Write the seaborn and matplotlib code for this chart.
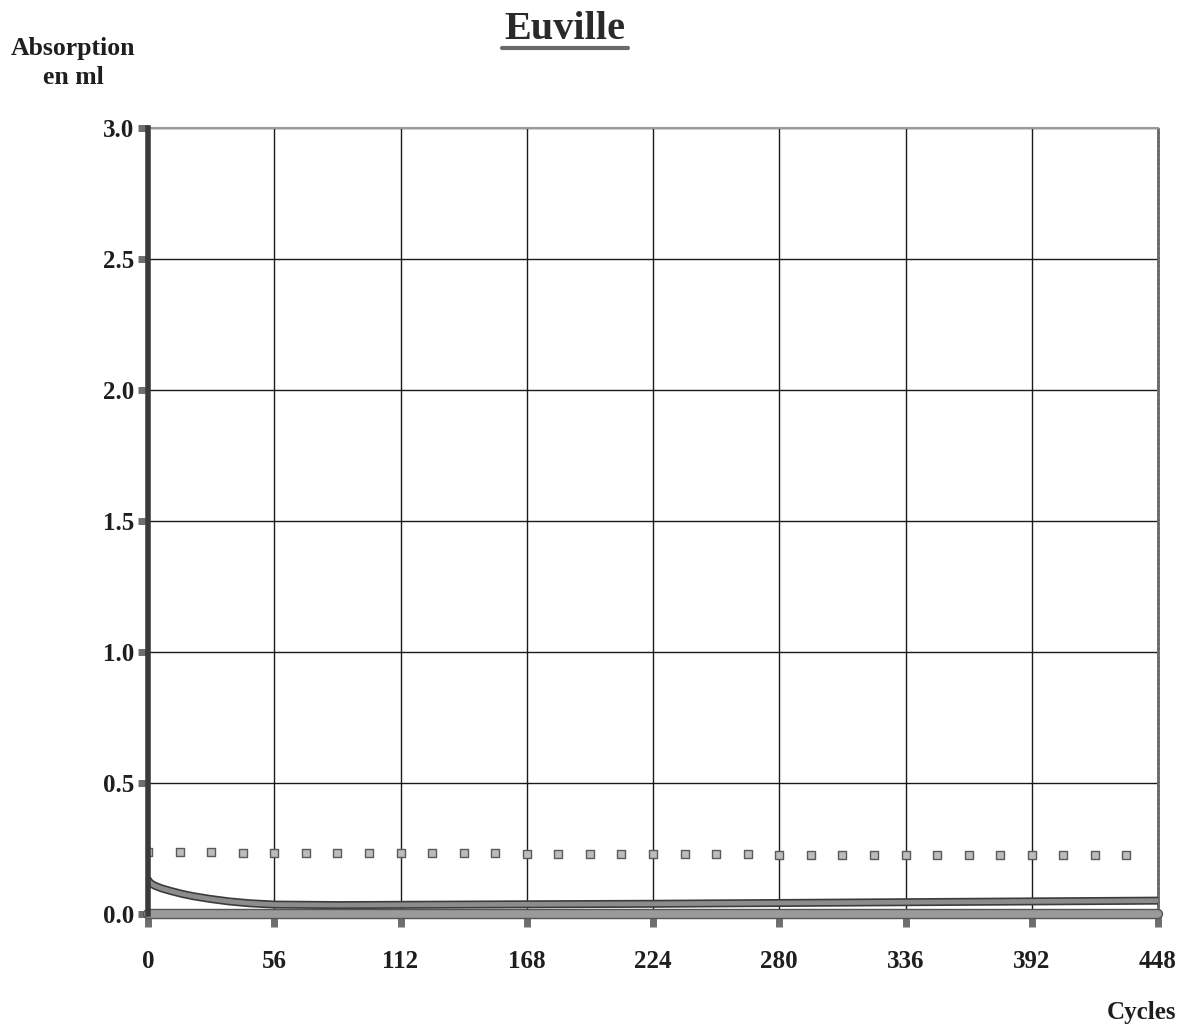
import numpy as np
import pandas as pd
import seaborn as sns
import matplotlib
matplotlib.use("Agg")
import matplotlib.pyplot as plt
import matplotlib.patheffects as pe
from matplotlib.lines import Line2D

# ---- data ----
curve_cycles = [0, 1, 3, 6, 10, 15, 20, 28, 36, 45, 56, 84, 112, 168, 224, 280, 336, 392, 448]
curve_values = [0.13, 0.118, 0.108, 0.098, 0.088, 0.077, 0.068, 0.057, 0.048, 0.041, 0.036,
                0.034, 0.035, 0.037, 0.039, 0.042, 0.045, 0.048, 0.051]
marker_cycles = [0, 14, 28, 42, 56, 70, 84, 98, 112, 126, 140, 154, 168, 182, 196, 210, 224,
                 238, 252, 266, 280, 294, 308, 322, 336, 350, 364, 378, 392, 406, 420, 434]
marker_values = [0.236, 0.235, 0.235, 0.234, 0.234, 0.233, 0.233, 0.233, 0.232, 0.232, 0.231,
                 0.231, 0.230, 0.230, 0.230, 0.229, 0.229, 0.228, 0.228, 0.228, 0.227, 0.227,
                 0.227, 0.226, 0.226, 0.226, 0.225, 0.225, 0.225, 0.224, 0.224, 0.224]
x_ticks = [0, 56, 112, 168, 224, 280, 336, 392, 448]
y_ticks = [0.0, 0.5, 1.0, 1.5, 2.0, 2.5, 3.0]
title = "Euville"
y_label = "Absorption\nen ml"
x_label = "Cycles"

sns.set_theme(style="white")
plt.rcParams['font.family'] = ['Liberation Serif', 'DejaVu Serif']
plt.rcParams['font.weight'] = 'bold'

W, H = 1189, 1025
fig = plt.figure(figsize=(W / 100, H / 100), dpi=100)
ax = fig.add_axes([148 / W, 1 - 914 / H, (1158 - 148) / W, (914 - 128) / H])

curve_df = pd.DataFrame({"cycles": curve_cycles, "absorption": curve_values})
marker_df = pd.DataFrame({"cycles": marker_cycles, "absorption": marker_values})

# grid
ax.set_xlim(0, 448)
ax.set_ylim(0, 3.0)
ax.set_xticks(x_ticks)
ax.set_yticks(y_ticks)
ax.grid(True, color="#1a1a1a", linewidth=1.0)
ax.set_axisbelow(True)

sns.lineplot(data=curve_df, x="cycles", y="absorption", ax=ax, color="#8c8c8c",
             linewidth=3.4, zorder=4,
             path_effects=[pe.Stroke(linewidth=5.8, foreground="#3c3c3c"), pe.Normal()])
sns.scatterplot(data=marker_df, x="cycles", y="absorption", ax=ax, marker="s", s=32,
                color="#bcbcbc", edgecolor="#5a5a5a", linewidth=1.0, zorder=4)

# zero line (thick grey bar)
ax.axhline(0, color="#9a9a9a", linewidth=5.5, zorder=5, clip_on=False,
           path_effects=[pe.Stroke(linewidth=7.5, foreground="#555555"), pe.Normal()])

# spines
for s in ["left", "right", "top", "bottom"]:
    ax.spines[s].set_visible(True)
ax.spines["left"].set_color("#3a3a3a")
ax.spines["left"].set_linewidth(4.0)
ax.spines["left"].set_zorder(6)
ax.spines["bottom"].set_visible(False)
ax.spines["top"].set_color("#9a9a9a")
ax.spines["top"].set_linewidth(1.5)
ax.spines["top"].set_linestyle((0, (1, 1)))
ax.spines["right"].set_color("#6a6a6a")
ax.spines["right"].set_linewidth(2.0)
ax.spines["right"].set_linestyle((0, (1, 0.6)))

ax.tick_params(axis="x", direction="out", length=9, width=5, color="#6e6e6e",
               pad=17, labelsize=18, bottom=True)
ax.tick_params(axis="y", direction="out", length=7, width=5, color="#6e6e6e",
               pad=3, labelsize=18, left=True)
for lab in ax.get_xticklabels() + ax.get_yticklabels():
    lab.set_fontweight("bold")
    lab.set_color("#1e1e1e")
ax.yaxis.set_major_formatter(matplotlib.ticker.FormatStrFormatter("%.1f"))
ax.set_xlabel("")
ax.set_ylabel("")

# texts
fig.text(565 / W, 1 - 39 / H, title, ha="center", va="baseline", fontsize=29,
         fontweight="bold", color="#2a2a2a")
fig.add_artist(Line2D([502 / W, 628 / W], [1 - 48 / H, 1 - 48 / H], color="#6a6a6a",
                      linewidth=3, transform=fig.transFigure))
fig.text(73 / W, 1 - 63 / H, y_label, ha="center", va="center", fontsize=18.5,
         fontweight="bold", color="#1e1e1e", linespacing=1.35, multialignment="center")
fig.text(1141 / W, 1 - 1013 / H, x_label, ha="center", va="center", fontsize=18,
         fontweight="bold", color="#1e1e1e")

fig.savefig("out.png", dpi=100, facecolor="white")
